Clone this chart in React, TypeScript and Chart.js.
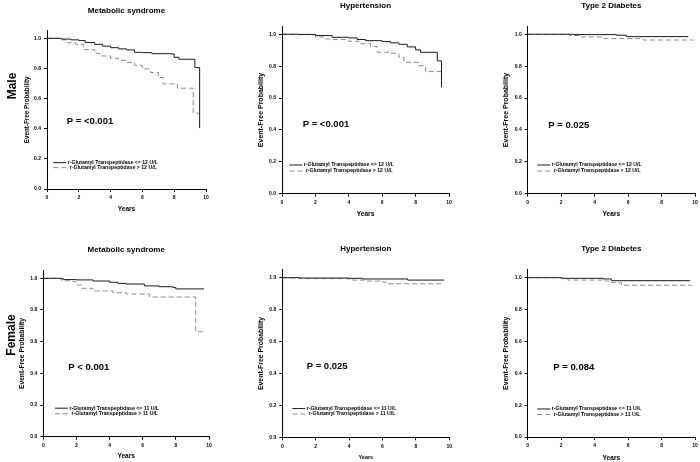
import React, { useEffect, useRef } from 'react';
import { Chart, registerables } from 'chart.js';

Chart.register(...registerables);
Chart.defaults.font.family = "'Liberation Sans', Arial, sans-serif";
Chart.defaults.color = '#000';

// survival curves as [years, event-free probability]
const maleMetsLow = [[0, 1], [0.9, 0.995], [1.5, 0.99], [2, 0.985], [2.4, 0.972], [3, 0.96], [3.5, 0.948], [4, 0.938], [4.5, 0.93], [5, 0.923], [5.5, 0.907], [6, 0.905], [6.6, 0.898], [7.8, 0.896], [8, 0.874], [8.3, 0.861], [9.3, 0.806], [9.6, 0.404]];
const maleMetsHigh = [[0, 1], [0.8, 0.99], [1.2, 0.971], [1.8, 0.96], [2.3, 0.925], [3, 0.9], [3.3, 0.883], [4, 0.868], [4.5, 0.854], [5, 0.841], [5.5, 0.821], [6, 0.797], [6.5, 0.773], [7, 0.74], [7.3, 0.698], [8.2, 0.669], [9.2, 0.503], [9.6, 0.503]];
const maleHtnLow = [[0, 1], [1, 0.999], [2, 0.992], [3, 0.981], [4, 0.977], [4.5, 0.967], [5, 0.96], [6, 0.954], [6.5, 0.946], [7, 0.937], [7.5, 0.921], [8, 0.902], [8.3, 0.887], [9.3, 0.833], [9.55, 0.667]];
const maleHtnHigh = [[0, 1], [1, 0.998], [2, 0.983], [2.5, 0.971], [3, 0.967], [4, 0.956], [4.6, 0.941], [5.3, 0.923], [5.7, 0.887], [6.5, 0.881], [7, 0.856], [7.3, 0.824], [8.2, 0.803], [8.6, 0.766], [9.55, 0.766]];
const maleT2dLow = [[0, 1], [2.7, 0.998], [5.3, 0.994], [5.9, 0.985], [9.6, 0.985]];
const maleT2dHigh = [[0, 1], [1, 0.999], [2.5, 0.992], [3.2, 0.983], [4.5, 0.973], [6.9, 0.964], [9.9, 0.964]];
const femaleMetsLow = [[0, 1], [1, 0.998], [1.2, 0.992], [2, 0.99], [3, 0.983], [4, 0.975], [4.5, 0.968], [5, 0.964], [6.1, 0.952], [7, 0.947], [7.8, 0.943], [8, 0.933], [9.7, 0.933]];
const femaleMetsHigh = [[0, 1], [1.1, 0.985], [1.8, 0.979], [2, 0.958], [2.3, 0.937], [3, 0.92], [4.2, 0.909], [5, 0.901], [6.4, 0.882], [9.2, 0.663], [9.7, 0.663]];
const femaleHtnLow = [[0, 1], [1, 0.998], [4, 0.996], [4.8, 0.992], [7.5, 0.985], [9.7, 0.985]];
const femaleHtnHigh = [[0, 1], [1, 0.994], [4, 0.99], [4.2, 0.985], [5, 0.979], [6, 0.973], [6.2, 0.962], [9.7, 0.962]];
const femaleT2dLow = [[0, 1], [2, 0.996], [4.5, 0.992], [5, 0.981], [9.7, 0.981]];
const femaleT2dHigh = [[0, 1], [2, 0.996], [2.4, 0.985], [4.6, 0.979], [5, 0.969], [5.6, 0.952], [9.8, 0.952]];

const maleLabels = ['r-Glutamyl Transpeptidase <= 12 U/L', 'r-Glutamyl Transpeptidase > 12 U/L'];
const femaleLabels = ['r-Glutamyl Transpeptidase <= 11 U/L', 'r-Glutamyl Transpeptidase > 11 U/L'];
const titles = ['Metabolic syndrome', 'Hypertension', 'Type 2 Diabetes'];
const pValues = ['P = <0.001', 'P = <0.001', 'P = 0.025', 'P < 0.001', 'P = 0.025', 'P = 0.084'];
const yearTicks = [0, 2, 4, 6, 8, 10];

type Pt = number[];
interface Box { left: number; top: number; width: number; height: number }
interface Area { l: number; r: number; t: number; b: number }
interface PanelDef {
  title: string;
  low: Pt[];
  high: Pt[];
  labels: string[];
  pText: string;
  pAt: number[];
  legendAt: number[];
  legendGap: number;
  cell: Box;
  area: Area;
  titleY: number;
  yTitleX: number;
  xTitleY: number;
  yTitleSize: number;
  xTitleSize: number;
}

const kmNotes = {
  id: 'kmNotes',
  afterDraw(chart: any, _args: any, opts: any) {
    const { ctx, scales } = chart;
    const x = scales.x;
    const y = scales.y;
    ctx.save();
    ctx.fillStyle = '#000';
    ctx.textBaseline = 'middle';
    ctx.textAlign = 'left';
    ctx.font = "bold 9.5px 'Liberation Sans', Arial, sans-serif";
    ctx.fillText(opts.pText, x.getPixelForValue(opts.pAt[0]), y.getPixelForValue(opts.pAt[1]));

    const lx = x.getPixelForValue(opts.legendAt[0]);
    const ly = y.getPixelForValue(opts.legendAt[1]);
    ctx.font = "bold 5.2px 'Liberation Sans', Arial, sans-serif";
    chart.data.datasets.forEach((ds: any, i: number) => {
      const rowY = ly + i * opts.legendGap;
      ctx.strokeStyle = ds.borderColor;
      ctx.lineWidth = 1;
      ctx.setLineDash(ds.borderDash || []);
      ctx.beginPath();
      ctx.moveTo(lx, rowY);
      ctx.lineTo(lx + 13, rowY);
      ctx.stroke();
      ctx.fillText(ds.label, lx + 14.5 + i * 2, rowY);
    });
    ctx.restore();
  },
};

const Panel = ({ def }: { def: PanelDef }): JSX.Element => {
  const canvasRef = useRef<HTMLCanvasElement>(null);

  useEffect(() => {
    const { cell, area } = def;
    const yLine = def.yTitleSize * 1.2;
    const xLine = def.xTitleSize * 1.2;
    const tLine = 8 * 1.2;
    const yScaleLeft = def.yTitleX - yLine / 2;
    const yWidth = area.l - yScaleLeft;
    const xHeight = def.xTitleY + xLine / 2 - area.b;

    const chart = new Chart(canvasRef.current, {
      type: 'line',
      data: {
        datasets: [
          {
            label: def.labels[0],
            data: def.low.map(([t, s]) => ({ x: t, y: s })),
            borderColor: '#1a1a1a',
            borderWidth: 1,
            stepped: true,
            pointRadius: 0,
          },
          {
            label: def.labels[1],
            data: def.high.map(([t, s]) => ({ x: t, y: s })),
            borderColor: '#8c8c8c',
            borderWidth: 1,
            borderDash: [5, 3],
            stepped: true,
            pointRadius: 0,
          },
        ],
      },
      options: {
        animation: false,
        responsive: false,
        maintainAspectRatio: false,
        layout: {
          padding: {
            left: yScaleLeft - cell.left,
            right: cell.left + cell.width - area.r,
            top: 0,
            bottom: cell.top + cell.height - (area.b + xHeight),
          },
        },
        plugins: {
          legend: { display: false },
          tooltip: { enabled: false },
          title: {
            display: true,
            text: def.title,
            fullSize: false,
            font: { size: 8, weight: 'bold' },
            padding: { top: def.titleY - cell.top - tLine / 2, bottom: area.t - (def.titleY + tLine / 2) },
          },
          kmNotes: { pText: def.pText, pAt: def.pAt, legendAt: def.legendAt, legendGap: def.legendGap },
        } as any,
        scales: {
          x: {
            type: 'linear',
            min: 0,
            max: 10,
            afterBuildTicks: (s: any) => {
              s.ticks = yearTicks.map((v) => ({ value: v }));
            },
            ticks: { font: { size: 5, weight: 'bold' }, padding: 3, maxRotation: 0 },
            grid: { drawOnChartArea: false, tickLength: 3, color: '#000' },
            border: { color: '#000' },
            title: { display: true, text: 'Years', font: { size: def.xTitleSize, weight: 'bold' }, padding: 0 },
            afterFit: (s: any) => {
              s.height = xHeight;
              s.paddingLeft = 0;
              s.paddingRight = 0;
            },
          },
          y: {
            min: 0,
            max: 1.05,
            ticks: {
              stepSize: 0.2,
              includeBounds: false,
              font: { size: 5, weight: 'bold' },
              padding: 3,
              callback: (v: any) => Number(v).toFixed(1),
            },
            grid: { drawOnChartArea: false, tickLength: 3, color: '#000' },
            border: { color: '#000' },
            title: {
              display: true,
              text: 'Event-Free Probability',
              font: { size: def.yTitleSize, weight: 'bold' },
              padding: 0,
            },
            afterFit: (s: any) => {
              s.width = yWidth;
              s.paddingTop = 0;
              s.paddingBottom = 0;
            },
          },
        },
      },
      plugins: [kmNotes],
    });
    return () => {
      chart.destroy();
    };
  }, [def]);

  const { cell } = def;
  return (
    <canvas
      ref={canvasRef}
      width={cell.width}
      height={cell.height}
      style={{ position: 'absolute', left: cell.left, top: cell.top, width: cell.width, height: cell.height }}
    />
  );
};

const cols = [0, 232, 466, 700];
const rows = [0, 230, 462];
const cellAt = (r: number, c: number): Box => ({
  left: cols[c],
  top: rows[r],
  width: cols[c + 1] - cols[c],
  height: rows[r + 1] - rows[r],
});

const panels: PanelDef[] = [
  {
    title: titles[0], low: maleMetsLow, high: maleMetsHigh, labels: maleLabels, pText: pValues[0],
    pAt: [1.24, 0.447], legendAt: [0.4, 0.175], legendGap: 5,
    cell: cellAt(0, 0), area: { l: 47, r: 206, t: 30.8, b: 189 },
    titleY: 11, yTitleX: 27, xTitleY: 209.3, yTitleSize: 6.3, xTitleSize: 6.5,
  },
  {
    title: titles[1], low: maleHtnLow, high: maleHtnHigh, labels: maleLabels, pText: pValues[1],
    pAt: [1.24, 0.435], legendAt: [0.44, 0.18], legendGap: 6,
    cell: cellAt(0, 1), area: { l: 282, r: 449, t: 26.3, b: 193.7 },
    titleY: 5.3, yTitleX: 260.7, xTitleY: 214.3, yTitleSize: 7, xTitleSize: 6.6,
  },
  {
    title: titles[2], low: maleT2dLow, high: maleT2dHigh, labels: maleLabels, pText: pValues[2],
    pAt: [1.23, 0.43], legendAt: [0.57, 0.18], legendGap: 6,
    cell: cellAt(0, 2), area: { l: 527.7, r: 695, t: 26.3, b: 193.7 },
    titleY: 5.3, yTitleX: 505.7, xTitleY: 214.3, yTitleSize: 7, xTitleSize: 6.6,
  },
  {
    title: titles[0], low: femaleMetsLow, high: femaleMetsHigh, labels: femaleLabels, pText: pValues[3],
    pAt: [1.51, 0.436], legendAt: [0.7, 0.18], legendGap: 5.5,
    cell: cellAt(1, 0), area: { l: 43.3, r: 209, t: 270.4, b: 436.7 },
    titleY: 249.3, yTitleX: 22.3, xTitleY: 456.7, yTitleSize: 6.7, xTitleSize: 6.5,
  },
  {
    title: titles[1], low: femaleHtnLow, high: femaleHtnHigh, labels: femaleLabels, pText: pValues[4],
    pAt: [1.46, 0.442], legendAt: [0.6, 0.18], legendGap: 5.5,
    cell: cellAt(1, 1), area: { l: 282.3, r: 449.3, t: 269.7, b: 437.3 },
    titleY: 248.3, yTitleX: 260.7, xTitleY: 457, yTitleSize: 6.9, xTitleSize: 5.5,
  },
  {
    title: titles[2], low: femaleT2dLow, high: femaleT2dHigh, labels: femaleLabels, pText: pValues[5],
    pAt: [1.53, 0.4375], legendAt: [0.57, 0.176], legendGap: 5.5,
    cell: cellAt(1, 2), area: { l: 527.7, r: 695, t: 269.7, b: 437 },
    titleY: 248.3, yTitleX: 505.7, xTitleY: 457.7, yTitleSize: 6.9, xTitleSize: 6.6,
  },
];

const rowLabelStyle = (x: number, y: number): React.CSSProperties => ({
  position: 'absolute',
  left: x,
  top: y,
  transform: 'translate(-50%, -50%) rotate(-90deg)',
  font: "bold 12px 'Liberation Sans', Arial, sans-serif",
  lineHeight: 1,
  whiteSpace: 'nowrap',
  color: '#000',
});

const App = (): JSX.Element => (
  <div style={{ position: 'fixed', left: 0, top: 0, width: 700, height: 462, background: '#fff', overflow: 'hidden' }}>
    {panels.map((p, i) => (
      <Panel key={i} def={p} />
    ))}
    <div style={rowLabelStyle(11.5, 86)}>Male</div>
    <div style={rowLabelStyle(10.5, 335)}>Female</div>
  </div>
);

export default App;
